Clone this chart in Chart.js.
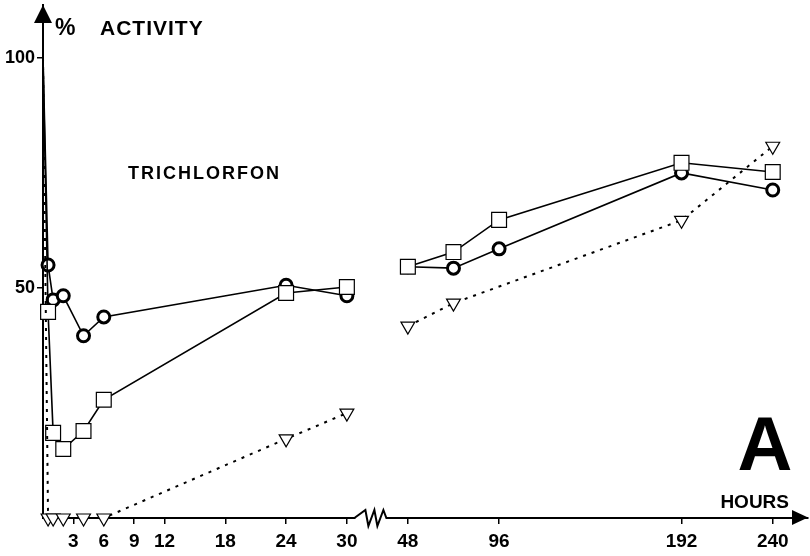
<!DOCTYPE html>
<html><head><meta charset="utf-8">
<script src="https://cdn.jsdelivr.net/npm/chart.js@4.4.1/dist/chart.umd.min.js"></script>
<style>html,body{margin:0;padding:0;background:#fff;} canvas{display:block;}</style>
</head><body>
<canvas id="c" width="810" height="556"></canvas>
<script>
// ---- data ----
const hoursMain = [0, 0.5, 1, 2, 4, 6, 24, 30, 48, 72, 96, 192, 240];
const circleValues = [100, 55, 47.4, 48.3, 39.6, 43.7, 50.6, 48.3, 54.6, 54.3, 58.5, 75, 71.3];
const squareValues = [100, 44.8, 18.5, 15, 18.9, 25.7, 48.9, 50.2, 54.6, 57.8, 64.8, 77.2, 75.2];
const hoursTriangle = [0, 0.5, 1, 2, 4, 6, 24, 30, 48, 72, 192, 240];
const triangleValues = [100, 0, 0, 0, 0, 0, 17.2, 22.8, 41.7, 46.7, 64.7, 80.8];
const xTickHours = [3, 6, 9, 12, 18, 24, 30, 48, 96, 192, 240];
const xTickLabels = ['3', '6', '9', '12', '18', '24', '30', '48', '96', '192', '240'];
const yTickValues = [50, 100];
const yTickLabels = ['50', '100'];

// ---- broken time axis: 0–30 h on one scale, 48–240 h compressed ----
const BREAK_FROM = 30, BREAK_TO = 48, GAP = 6.02, RIGHT_RATIO = 0.1876;
function axisPos(h) { return h <= BREAK_FROM ? h : BREAK_FROM + GAP + (h - BREAK_TO) * RIGHT_RATIO; }
const toPoints = (hs, vs) => hs.map((h, i) => ({ x: axisPos(h), y: vs[i] }));

const FONT = '"Liberation Sans", Arial, Helvetica, sans-serif';
const gapSegment = {
  borderColor: c => (c.p0.parsed.x <= BREAK_FROM && c.p1.parsed.x > BREAK_FROM) ? 'rgba(0,0,0,0)' : undefined
};
const hideFirst = r => c => c.dataIndex === 0 ? 0 : r;

const decor = {
  id: 'decor',
  afterDraw(chart) {
    const { ctx, chartArea: a, scales: { x } } = chart;
    ctx.save();
    ctx.fillStyle = '#000'; ctx.strokeStyle = '#000';
    // y axis arrow
    ctx.beginPath();
    ctx.moveTo(a.left, a.top); ctx.lineTo(a.left - 9, a.top + 18); ctx.lineTo(a.left + 9, a.top + 18);
    ctx.closePath(); ctx.fill();
    // x axis arrow
    ctx.beginPath();
    ctx.moveTo(a.right, a.bottom - 0.5); ctx.lineTo(a.right - 16, a.bottom - 8); ctx.lineTo(a.right - 16, a.bottom + 7);
    ctx.closePath(); ctx.fill();
    // axis break zigzag
    const bx = x.getPixelForValue(BREAK_FROM + GAP / 2) - 3;
    const by = a.bottom;
    ctx.fillStyle = '#fff';
    ctx.fillRect(bx - 19, by - 3, 35, 6);
    ctx.strokeStyle = '#000'; ctx.lineWidth = 2; ctx.lineJoin = 'miter';
    ctx.beginPath();
    ctx.moveTo(bx - 20, by);
    ctx.lineTo(bx - 9, by - 8);
    ctx.lineTo(bx - 6, by + 8);
    ctx.lineTo(bx, by - 8);
    ctx.lineTo(bx + 3, by + 8);
    ctx.lineTo(bx + 9, by - 8);
    ctx.lineTo(bx + 12, by);
    ctx.lineTo(bx + 17, by);
    ctx.stroke();
    // texts
    ctx.fillStyle = '#000';
    ctx.textBaseline = 'alphabetic';
    ctx.textAlign = 'left';
    ctx.font = 'bold 23px ' + FONT;
    ctx.fillText('%', 55, 35);
    ctx.font = 'bold 21px ' + FONT;
    ctx.letterSpacing = '1px';
    ctx.fillText('ACTIVITY', 100, 35);
    ctx.font = 'bold 18px ' + FONT;
    ctx.letterSpacing = '2px';
    ctx.fillText('TRICHLORFON', 128, 179);
    ctx.letterSpacing = '0px';
    ctx.font = 'bold 19px ' + FONT;
    ctx.textAlign = 'right';
    ctx.fillText('HOURS', 789, 508);
    ctx.textAlign = 'center';
    ctx.font = 'bold 76px ' + FONT;
    ctx.fillText('A', 765, 470);
    ctx.restore();
  }
};

new Chart(document.getElementById('c'), {
  type: 'line',
  data: {
    datasets: [
      {
        label: 'triangles', data: toPoints(hoursTriangle, triangleValues),
        borderColor: '#000', borderWidth: 2, borderDash: [3, 6], segment: gapSegment,
        pointStyle: 'triangle', rotation: 180, pointRadius: hideFirst(8),
        pointBorderColor: '#000', pointBackgroundColor: '#fff', pointBorderWidth: 1.2,
        fill: false, tension: 0, clip: false
      },
      {
        label: 'squares', data: toPoints(hoursMain, squareValues),
        borderColor: '#000', borderWidth: 1.6, segment: gapSegment,
        pointStyle: 'rect', pointRadius: hideFirst(10.5),
        pointBorderColor: '#000', pointBackgroundColor: '#fff', pointBorderWidth: 1.2,
        fill: false, tension: 0, clip: false
      },
      {
        label: 'circles', data: toPoints(hoursMain, circleValues),
        borderColor: '#000', borderWidth: 1.6, segment: gapSegment,
        pointStyle: 'circle', pointRadius: hideFirst(6),
        pointBorderColor: '#000', pointBackgroundColor: '#fff', pointBorderWidth: 3,
        fill: false, tension: 0, clip: false
      }
    ]
  },
  options: {
    responsive: false, animation: false, devicePixelRatio: 1,
    layout: { autoPadding: false, padding: { top: 5, right: 2, left: 0, bottom: 0 } },
    plugins: { legend: { display: false }, tooltip: { enabled: false } },
    scales: {
      x: {
        type: 'linear', min: 0, max: 75.52,
        afterFit: s => { s.height = 38; s.paddingLeft = 0; s.paddingRight = 0; },
        afterBuildTicks: s => { s.ticks = xTickHours.map(h => ({ value: axisPos(h) })); },
        ticks: {
          autoSkip: false, maxRotation: 0, padding: 6, color: '#000',
          font: { family: FONT, size: 19, weight: 'bold' },
          callback: (v, i) => xTickLabels[i]
        },
        grid: { display: true, drawOnChartArea: false, drawTicks: true, tickLength: 6, color: '#000', lineWidth: 1.5 },
        border: { display: true, color: '#000', width: 2 }
      },
      y: {
        type: 'linear', min: 0, max: 111.5,
        afterFit: s => { s.width = 43; s.paddingTop = 0; s.paddingBottom = 0; },
        afterBuildTicks: s => { s.ticks = yTickValues.map(v => ({ value: v })); },
        ticks: {
          padding: 2, color: '#000',
          font: { family: FONT, size: 18, weight: 'bold' },
          callback: (v, i) => yTickLabels[i]
        },
        grid: { display: true, drawOnChartArea: false, drawTicks: true, tickLength: 6, color: '#000', lineWidth: 1.5 },
        border: { display: true, color: '#000', width: 2 }
      }
    }
  },
  plugins: [decor]
});
</script>
</body></html>
